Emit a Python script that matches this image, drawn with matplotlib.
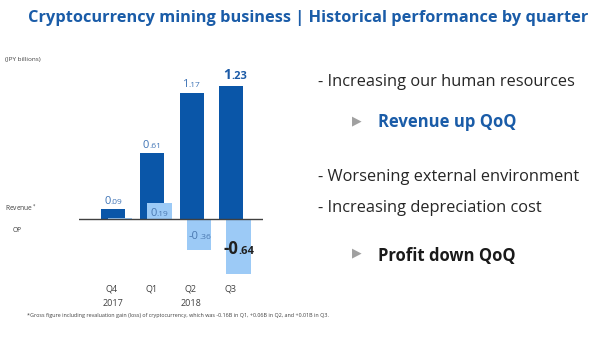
import numpy as np
import matplotlib.pyplot as plt

plt.rcParams['font.family'] = ['Open Sans', 'DejaVu Sans']

quarters = ['Q4', 'Q1', 'Q2', 'Q3']
revenue = [0.09, 0.61, 1.17, 1.23]
op = [0.01, 0.19, -0.36, -0.64]
rev_labels = [('0', '.09'), ('0', '.61'), ('1', '.17'), ('1', '.23')]
op_labels = [None, ('0', '.19'), ('-0', '.36'), ('-0', '.64')]

dark = '#0a56a8'
light = '#9ccaf6'
W, H = 600, 338

fig = plt.figure(figsize=(6, 3.38), dpi=100)

def px(x0, y0, x1, y1):
    # pixel box (from top-left) -> figure fraction
    return [x0 / W, 1 - y1 / H, (x1 - x0) / W, (y1 - y0) / H]

# revenue on ax, OP on a twin axis with its own scale (OP bars drawn in front)
ax = fig.add_axes(px(79, 80, 263, 280))
ax2 = ax.twinx()
x = np.arange(len(quarters))
ax.set_xlim(-0.86, 3.80)
ax.set_ylim(-61 / 108, 139 / 108)
ax2.set_ylim(-61 / 86, 139 / 86)

ax.bar(x, revenue, width=0.61, color=dark)
ax2.bar(x + 0.18, op, width=0.62, color=light)
ax2.axhline(0, color='#404040', lw=1)

for a in (ax, ax2):
    for s in a.spines.values():
        s.set_visible(False)
    a.set_yticks([])
ax.set_xticks(x - 0.03)
ax.set_xticklabels(quarters, fontsize=6.5, color='#404040')
ax.tick_params(axis='x', length=0, pad=3)


def split_label(xp, yp, trans, dy, parts, color, big, small, bold=False):
    w = 'bold' if bold else 'normal'
    ax2.annotate(parts[0], xy=(xp, yp), xycoords=trans, xytext=(0, dy),
                 textcoords='offset points', fontsize=big, color=color, weight=w,
                 ha='right', va='baseline')
    ax2.annotate(parts[1], xy=(xp, yp), xycoords=trans, xytext=(0, dy),
                 textcoords='offset points', fontsize=small, color=color, weight=w,
                 ha='left', va='baseline')


rev_dx = [-0.06, -0.08, -0.1, 0.0]
for i, (v, lab) in enumerate(zip(revenue, rev_labels)):
    bold = i == 3
    split_label(x[i] + rev_dx[i], v, ax.transData, 5.5 if bold else 4, lab,
                '#1b5aa6' if bold else '#3f74b6', 10 if bold else 8,
                8 if bold else 6, bold=bold)

op_dx = [0.18, 0.11, 0.18, 0.18]
for i, (v, lab) in enumerate(zip(op, op_labels)):
    if lab is None:
        continue
    bold = i == 3
    split_label(x[i] + op_dx[i], v / 2, ax2.transData, -5.5 if bold else -3.5, lab,
                '#202020' if bold else '#4a78b0', 12 if bold else 8,
                8 if bold else 6, bold=bold)

fig.text(308 / W, 1 - 18 / H, 'Cryptocurrency mining business | Historical performance by quarter',
         ha='center', va='center', fontsize=11.75, weight='bold', color='#1a5ca8')
fig.text(5 / W, 1 - 60 / H, '(JPY billions)', fontsize=4.6, color='#404040', va='center')
fig.text(5 / W, 1 - 208 / H, 'Revenue$^*$', fontsize=4.8, color='#404040', va='center')
fig.text(13 / W, 1 - 230 / H, 'OP', fontsize=4.8, color='#404040', va='center')
fig.text(113 / W, 1 - 303 / H, '2017', fontsize=6.5, color='#404040', ha='center', va='center')
fig.text(191 / W, 1 - 303 / H, '2018', fontsize=6.5, color='#404040', ha='center', va='center')
fig.text(27 / W, 1 - 315 / H,
         '*Gross figure including revaluation gain (loss) of cryptocurrency, which was -0.16B in Q1, +0.06B in Q2, and +0.01B in Q3.',
         fontsize=3.9, color='#404040', va='center')

txt = '#262626'
fig.text(318 / W, 1 - 82 / H, '- Increasing our human resources', fontsize=11.75, color=txt, va='center')
fig.text(352 / W, 1 - 121 / H, '\u25B6', fontsize=9, color='#a0a0a0', va='center', family='DejaVu Sans')
fig.text(378 / W, 1 - 122 / H, 'Revenue up QoQ', fontsize=12, weight='bold', color='#1a5ca8', va='center')
fig.text(318 / W, 1 - 177 / H, '- Worsening external environment', fontsize=11.75, color=txt, va='center')
fig.text(318 / W, 1 - 208 / H, '- Increasing depreciation cost', fontsize=11.75, color=txt, va='center')
fig.text(352 / W, 1 - 253 / H, '\u25B6', fontsize=9, color='#a0a0a0', va='center', family='DejaVu Sans')
fig.text(378 / W, 1 - 256 / H, 'Profit down QoQ', fontsize=12, weight='bold', color='#1a1a1a', va='center')

fig.savefig('out.png', dpi=100)
